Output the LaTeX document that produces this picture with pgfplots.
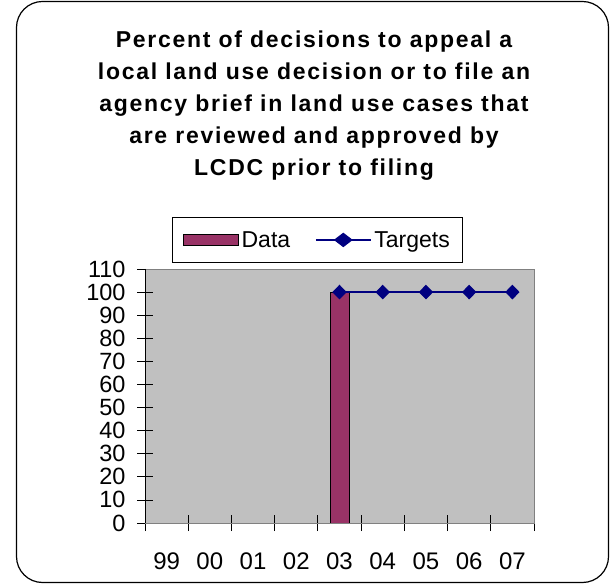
\documentclass[border=0pt]{standalone}
\usepackage{fontspec}
\setmainfont{Liberation Sans}
\usepackage{pgfplots}
\pgfplotsset{compat=1.18}
\definecolor{plum}{HTML}{993366}
\definecolor{navyc}{HTML}{000080}
\definecolor{plotgray}{HTML}{C0C0C0}
\begin{document}
\begin{tikzpicture}
\path[use as bounding box] (0bp,0bp) rectangle (610bp,584bp);
\draw[line width=1.2bp, rounded corners=26bp] (16.5bp,1.5bp) rectangle (608.5bp,582.5bp);
\begin{scope}[every node/.style={anchor=base, inner sep=0pt, font=\bfseries\fontsize{23bp}{27bp}\selectfont\addfontfeature{LetterSpace=7.5}}]
\node at (314bp,536bp) {Percent of decisions to appeal a};
\node at (314bp,504bp) {local land use decision or to file an};
\node at (314bp,472bp) {agency brief in land use cases that};
\node at (314bp,440bp) {are reviewed and approved by};
\node at (314bp,408bp) {LCDC prior to filing};
\end{scope}
\begin{axis}[
  at={(145bp,61bp)}, anchor=south west, scale only axis,
  width=389bp, height=254bp,
  xmin=-0.5, xmax=8.5, ymin=0, ymax=110,
  axis background/.style={fill=plotgray},
  axis line style={draw=gray, line width=0.8bp},
  tick pos=left,
  tick align=center, major tick length=16bp, minor tick length=16bp,
  tick style={black, line width=0.8bp},
  ytick={0,10,...,110},
  xtick={0,...,8},
  xticklabels={99,00,01,02,03,04,05,06,07},
  minor xtick={-0.5,0.5,...,8.5},
  major x tick style={draw=none},
  /pgf/number format/assume math mode=true,
  yticklabel style={font=\fontsize{23.5bp}{23bp}\selectfont, xshift=-8bp},
  xticklabel style={font=\fontsize{24bp}{24bp}\selectfont, yshift=-18bp},
  legend style={at={(0.444,1)}, anchor=south, yshift=6bp, draw=black, fill=white,
    line width=0.8bp, inner xsep=10bp, inner ysep=11bp,
    font=\fontsize{23bp}{26bp}\selectfont, legend columns=2,
    nodes={inner sep=3bp},
    /tikz/every even column/.append style={column sep=22bp}},
  legend cell align=left,
]
\addplot[ybar, bar width=19bp, fill=plum, draw=black, line width=1bp,
  legend image code/.code={\draw[fill=plum, draw=black, line width=1bp] (0bp,-6bp) rectangle (55bp,5bp);}]
  coordinates {(4,100)};
\addlegendentry{Data}
\addplot[navyc, line width=1.2bp, mark=diamond*, mark size=6.5bp, mark options={fill=navyc, xscale=1.3},
  legend image code/.code={\draw[navyc, line width=1.2bp] (0bp,0bp) -- (55bp,0bp); \fill[navyc] (27.5bp,6.5bp) -- (36bp,0bp) -- (27.5bp,-6.5bp) -- (19bp,0bp) -- cycle;}]
  coordinates {(4,100) (5,100) (6,100) (7,100) (8,100)};
\addlegendentry{Targets}
\draw[black, line width=0.8bp] (rel axis cs:0,1) -- (rel axis cs:0,0) -- (rel axis cs:1,0);
\end{axis}
\end{tikzpicture}
\end{document}
